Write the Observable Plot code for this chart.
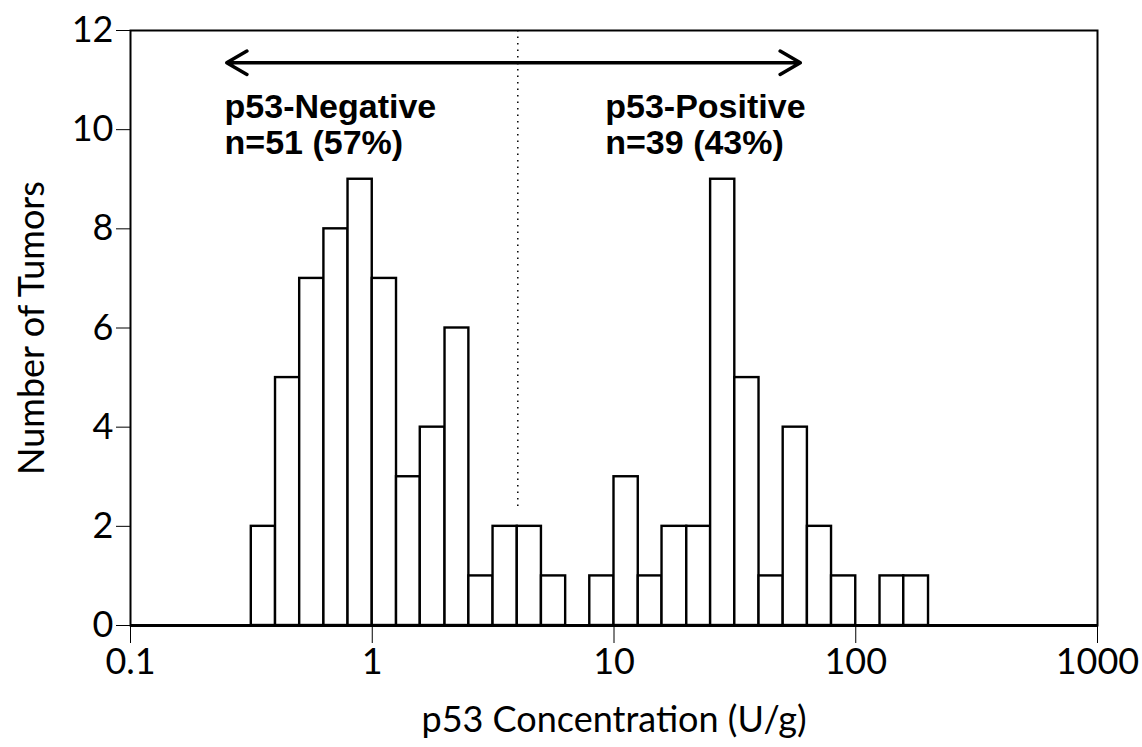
<!DOCTYPE html>
<html><head><meta charset="utf-8">
<script src="https://cdn.jsdelivr.net/npm/d3@7"></script>
<script src="https://cdn.jsdelivr.net/npm/@observablehq/plot@0.6"></script>
<style>body{margin:0;background:#fff}</style>
</head><body><div id="chart"></div>
<script>
// Bin edges (U/g) (10 bins per decade)
const binEdges = [0.316, 0.398, 0.501, 0.631, 0.794, 1, 1.26, 1.58, 2.0, 2.51, 3.16, 3.98, 5.01, 6.31, 7.94,
  10, 12.6, 15.8, 20.0, 25.1, 31.6, 39.8, 50.1, 63.1, 79.4, 100, 126, 158, 200];
// Number of tumors in each bin
const counts = [2, 5, 7, 8, 9, 7, 3, 4, 6, 1, 2, 2, 1, 0, 1,
  3, 1, 2, 2, 9, 5, 1, 4, 2, 1, 0, 1, 1];
const xTicks = [0.1, 1, 10, 100, 1000];
const yTicks = [0, 2, 4, 6, 8, 10, 12];
const cutoff = [4];
const cutoffSpan = [2.4, 12];
const groupLabels = ["p53-Negative\nn=51 (57%)", "p53-Positive\nn=39 (43%)"];
const groupLabelX = [0.245, 9.2];
const groupLabelY = [10.75, 10.75];
const arrowEnds = [0.25, 59];
const arrowMid = [4];
const arrowY = [11.35];

const bins = counts.map((c, i) => ({x1: binEdges[i], x2: binEdges[i + 1], count: c})).filter(d => d.count > 0);
const labels = groupLabels.map((t, i) => ({text: t, x: groupLabelX[i], y: groupLabelY[i]}));
const arrows = arrowEnds.map(e => ({x1: arrowMid[0], x2: e, y: arrowY[0]}));

const chart = Plot.plot({
  width: 1142,
  height: 747,
  marginTop: 30,
  marginBottom: 122,
  marginLeft: 130,
  marginRight: 45,
  style: {fontFamily: "Lato, 'Open Sans', sans-serif", fontSize: "36px", color: "#000", background: "#fff"},
  x: {type: "log", domain: [0.1, 1000], ticks: xTicks, tickFormat: d => String(d), tickSize: 18, tickPadding: 5,
      label: "p53 Concentration (U/g)", labelAnchor: "center", labelOffset: 106, labelArrow: false},
  y: {domain: [0, 12], ticks: yTicks, tickSize: 14, tickPadding: 3,
      label: "Number of Tumors", labelAnchor: "center", labelOffset: 112, labelArrow: false},
  marks: [
    Plot.frame({stroke: "#000", strokeWidth: 2}),
    Plot.ruleX(cutoff, {y1: cutoffSpan[0], y2: cutoffSpan[1], stroke: "#000", strokeWidth: 1.5, strokeDasharray: "1.5,5"}),
    Plot.rectY(bins, {x1: "x1", x2: "x2", y: "count", fill: "#fff", stroke: "#000", strokeWidth: 2.4, inset: 0}),
    Plot.ruleY([0], {stroke: "#000", strokeWidth: 3}),
    Plot.arrow(arrows, {x1: "x1", x2: "x2", y1: "y", y2: "y", stroke: "#000", strokeWidth: 3.5, headLength: 10, headAngle: 60}),
    Plot.text(labels, {x: "x", y: "y", text: "text", textAnchor: "start", lineAnchor: "top", lineHeight: 1.06,
      fontFamily: "'Liberation Sans', Arial, sans-serif", fontWeight: "bold", fontSize: 34, fill: "#000"})
  ]
});
document.getElementById("chart").appendChild(chart);
</script>
</body></html>
